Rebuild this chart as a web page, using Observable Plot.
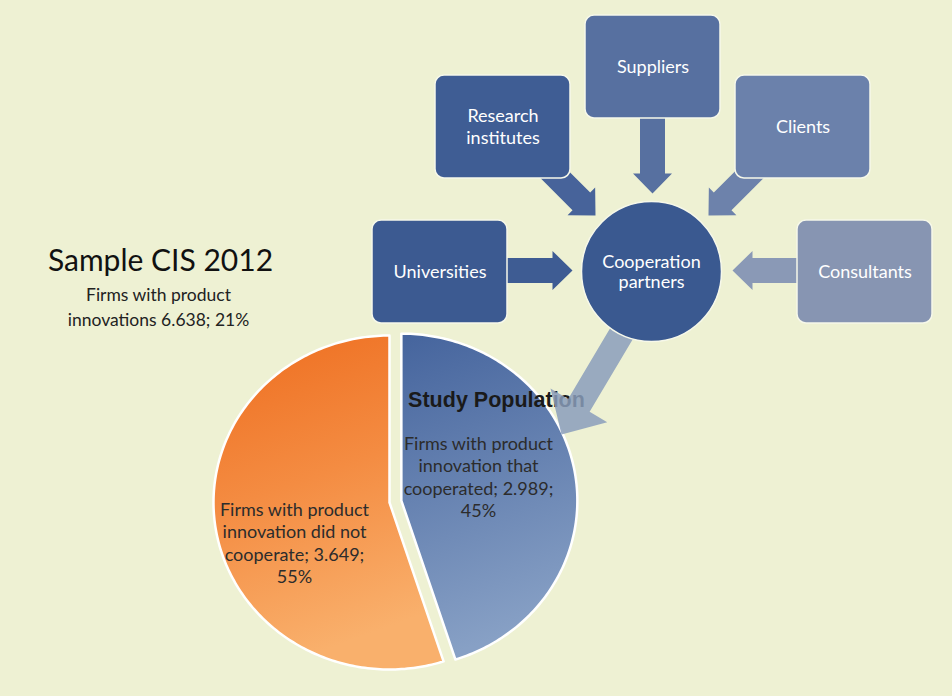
<!DOCTYPE html>
<html><head><meta charset="utf-8">
<script src="https://cdn.jsdelivr.net/npm/d3@7"></script>
<script src="https://cdn.jsdelivr.net/npm/@observablehq/plot@0.6"></script>
<style>
html,body{margin:0;padding:0;background:#eef1d3;}
#chart svg{display:block}
</style>
</head><body><div id="chart"></div>
<script>
// ---------- data ----------
const titleText = "Sample CIS 2012";
const sampleFirms = 6638;
const samplePct = 21;
const sliceKeys = ["cooperated", "notCooperated"];
const sliceValues = [2989, 3649];
const slicePcts = [45, 55];
const sliceTexts = ["Firms with product\ninnovation that\ncooperated;", "Firms with product\ninnovation did not\ncooperate;"];
const partners = ["Research institutes", "Suppliers", "Clients", "Universities", "Consultants"];
const hubLabel = "Cooperation partners";
const studyLabel = "Study Population";

// ---------- layout (positions & styles) ----------
const W = 952, H = 696;
const pieLayout = {cx: 389, cy: 502, rx: 176, ry: 167, explode: [12, 0], gradients: ["url(#gBlue)", "url(#gOrange)"],
  labelPos: [[478, 476], [294, 542]]};
const boxLayout = {
  "Research institutes": {x1: 435, x2: 570, y1: 75, y2: 178, fill: "#3f5d94", arrow: [[540, 160], [595, 215]], arrowFill: "#47639a"},
  "Suppliers": {x1: 585, x2: 720, y1: 15, y2: 118, fill: "#5770a0", arrow: [[652, 112], [652, 193]], arrowFill: "#5770a0"},
  "Clients": {x1: 735, x2: 870, y1: 75, y2: 178, fill: "#6b81ab", arrow: [[763, 160], [708, 215]], arrowFill: "#6d82ab"},
  "Universities": {x1: 372, x2: 507, y1: 220, y2: 323, fill: "#3c5a91", arrow: [[500, 270], [572, 270]], arrowFill: "#3e5c93"},
  "Consultants": {x1: 797, x2: 932, y1: 220, y2: 323, fill: "#8795b2", arrow: [[805, 270], [732, 270]], arrowFill: "#8a99b6"}
};
const hub = {x: 651, y: 271, r: 70, fill: "#3a5990"};
const studyArrow = {from: [630, 318], to: [561, 434], sw: 12.5, hw: 33, hl: 34, fill: "#8a9dbb"};

const fmt = d3.formatLocale({decimal: ",", thousands: ".", grouping: [3], currency: ["", ""]}).format(",d");

// ---------- derived geometry ----------
const arcs = d3.pie().sort(null)(sliceValues);
const slicePolys = arcs.map((a, i) => {
  const mid = (a.startAngle + a.endAngle) / 2;
  const ox = pieLayout.cx + pieLayout.explode[i] * Math.sin(mid);
  const oy = pieLayout.cy - pieLayout.explode[i] * Math.cos(mid);
  const pts = [{x: ox, y: oy}];
  const n = Math.ceil((a.endAngle - a.startAngle) / (Math.PI / 180));
  for (let k = 0; k <= n; k++) {
    const t = a.startAngle + (a.endAngle - a.startAngle) * k / n;
    pts.push({x: ox + pieLayout.rx * Math.sin(t), y: oy - pieLayout.ry * Math.cos(t)});
  }
  pts.push({x: ox, y: oy});
  return pts;
});
const sliceLabels = sliceKeys.map((k, i) => ({
  x: pieLayout.labelPos[i][0], y: pieLayout.labelPos[i][1],
  text: `${sliceTexts[i]} ${fmt(sliceValues[i])};\n${slicePcts[i]}%`
}));

function arrowPoly(id, S, T, sw, hw, hl, fill) {
  const dx = T[0] - S[0], dy = T[1] - S[1], L = Math.hypot(dx, dy);
  const ux = dx / L, uy = dy / L, nx = -uy, ny = ux;
  const bx = T[0] - ux * hl, by = T[1] - uy * hl;
  const p = [
    [S[0] + nx * sw, S[1] + ny * sw], [bx + nx * sw, by + ny * sw], [bx + nx * hw, by + ny * hw],
    T, [bx - nx * hw, by - ny * hw], [bx - nx * sw, by - ny * sw], [S[0] - nx * sw, S[1] - ny * sw],
    [S[0] + nx * sw, S[1] + ny * sw]
  ];
  return p.map(([x, y]) => ({id, x, y, fill}));
}
const partnerArrows = partners.flatMap(p => {
  const b = boxLayout[p];
  return arrowPoly(p, b.arrow[0], b.arrow[1], 12.5, 19.5, 20, b.arrowFill);
});
const studyArrowPts = arrowPoly("study", studyArrow.from, studyArrow.to, studyArrow.sw, studyArrow.hw, studyArrow.hl, studyArrow.fill);

const boxes = partners.map(p => ({name: p, label: p.replace(" ", "\n"), ...boxLayout[p]}));

const textFont = "Lato, 'Open Sans', sans-serif";

const plot = Plot.plot({
  width: W, height: H,
  margin: 0,
  x: {domain: [0, W], range: [0, W], axis: null},
  y: {domain: [0, H], range: [0, H], axis: null},
  color: {type: "identity"},
  style: {background: "#eef1d3", overflow: "visible"},
  marks: [
    // pie slices
    ...slicePolys.map((pts, i) => Plot.line(pts, {x: "x", y: "y", fill: pieLayout.gradients[i], stroke: "#ffffff", strokeWidth: 2.5, strokeLinejoin: "round"})),
    // slice labels
    Plot.text(sliceLabels, {x: "x", y: "y", text: "text", fontSize: 18, lineHeight: 1.25, fill: "#2c2c2c", fontFamily: textFont, textAnchor: "middle"}),
    // Study Population header
    Plot.text([studyLabel], {x: () => 496, y: () => 400, text: d => d, fontSize: 21.5, fontWeight: "bold", fontFamily: "'Liberation Sans', Arial, sans-serif", fill: "#1a1a1a"}),
    // study arrow (semi-transparent, over text)
    Plot.line(studyArrowPts, {x: "x", y: "y", z: "id", fill: "fill", stroke: null, fillOpacity: 0.85}),
    // partner arrows
    Plot.line(partnerArrows, {x: "x", y: "y", z: "id", fill: "fill", stroke: null}),
    // partner boxes
    Plot.rect(boxes, {x1: "x1", x2: "x2", y1: "y1", y2: "y2", fill: "fill", rx: 9, stroke: "#f6f8ea", strokeWidth: 1.5}),
    // hub circle
    Plot.dot([hub], {x: "x", y: "y", r: hub.r, fill: "fill", stroke: "#f6f8ea", strokeWidth: 1.5}),
    // box labels
    Plot.text(boxes, {x: d => (d.x1 + d.x2) / 2, y: d => (d.y1 + d.y2) / 2 - 1, text: "label", fill: "#ffffff", fontSize: 18, lineHeight: 1.25, fontFamily: textFont}),
    Plot.text([hubLabel], {x: () => hub.x, y: () => hub.y, text: d => d.replace(" ", "\n"), fill: "#ffffff", fontSize: 18, lineHeight: 1.15, fontFamily: textFont}),
    // title & subtitle
    Plot.text([titleText], {x: () => 160, y: () => 261, text: d => d, fontSize: 30, fill: "#111111", fontFamily: textFont}),
    Plot.text([`Firms with product\ninnovations ${fmt(sampleFirms)}; ${samplePct}%`], {x: () => 158, y: () => 305, text: d => d, fontSize: 17.5, lineHeight: 1.4, fill: "#222222", fontFamily: textFont})
  ]
});

const svgNS = "http://www.w3.org/2000/svg";
const defs = document.createElementNS(svgNS, "defs");
defs.innerHTML = `
<linearGradient id="gOrange" x1="0" y1="0" x2="0.25" y2="1">
  <stop offset="0" stop-color="#ee6d1f"/><stop offset="0.5" stop-color="#f48c42"/><stop offset="1" stop-color="#f9b06c"/>
</linearGradient>
<linearGradient id="gBlue" x1="0" y1="0" x2="0.2" y2="1">
  <stop offset="0" stop-color="#45649d"/><stop offset="1" stop-color="#87a0c5"/>
</linearGradient>`;
plot.insertBefore(defs, plot.firstChild);
document.getElementById("chart").appendChild(plot);
</script>
</body></html>
